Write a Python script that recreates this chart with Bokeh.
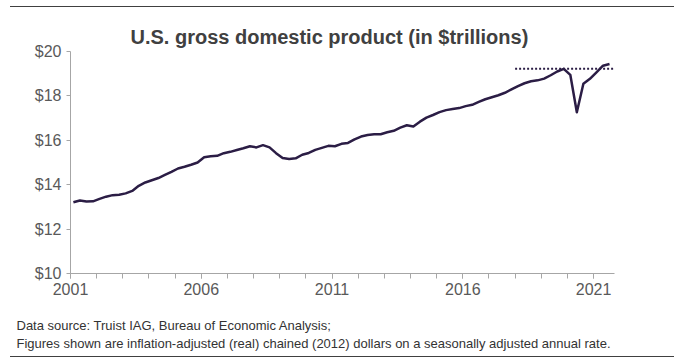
from bokeh.plotting import figure
from bokeh.models import FixedTicker, NumeralTickFormatter, Title, Range1d
from bokeh.embed import file_html
from bokeh.resources import INLINE

# Real GDP, quarterly, 2001Q1 .. 2021Q3 (trillions of chained 2012 dollars, SAAR)
start_year = 2001
gdp = [
    13.21, 13.29, 13.24, 13.25,   # 2001
    13.36, 13.46, 13.53, 13.55,   # 2002
    13.61, 13.72, 13.95, 14.10,   # 2003
    14.20, 14.30, 14.44, 14.58,   # 2004
    14.73, 14.81, 14.90, 15.00,   # 2005
    15.24, 15.28, 15.30, 15.42,   # 2006
    15.48, 15.56, 15.64, 15.73,   # 2007
    15.68, 15.78, 15.68, 15.42,   # 2008
    15.20, 15.16, 15.19, 15.35,   # 2009
    15.43, 15.57, 15.66, 15.75,   # 2010
    15.73, 15.84, 15.88, 16.04,   # 2011
    16.17, 16.24, 16.27, 16.27,   # 2012
    16.36, 16.43, 16.57, 16.68,   # 2013
    16.62, 16.84, 17.02, 17.14,   # 2014
    17.27, 17.36, 17.41, 17.45,   # 2015
    17.54, 17.60, 17.73, 17.85,   # 2016
    17.94, 18.03, 18.14, 18.29,   # 2017
    18.44, 18.57, 18.66, 18.70,   # 2018
    18.78, 18.93, 19.10, 19.22,   # 2019
    18.95, 17.26, 18.55, 18.77,   # 2020
    19.06, 19.36, 19.44,          # 2021
]
x_dates = [start_year + i / 4 + 0.11 for i in range(len(gdp))]

# pre-pandemic peak reference line
peak_x = [2018, 2022]
peak_y = [19.22, 19.22]

x_label_years = [2001, 2006, 2011, 2016, 2021]
x_minor_years = list(range(2001, 2022))
y_ticks = [10, 12, 14, 16, 18, 20]

title_text = "U.S. gross domestic product (in $trillions)"
note1 = "Data source: Truist IAG, Bureau of Economic Analysis;"
note2 = "Figures shown are inflation-adjusted (real) chained (2012) dollars on a seasonally adjusted annual rate."

FONT = "Liberation Sans"
LINE = "#2b1d45"
AXIS = "#a6a6a6"

p = figure(width=664, height=351, output_backend="svg", toolbar_location=None,
           x_range=Range1d(2001, 2021.8), y_range=Range1d(10, 20),
           min_border_left=60, min_border_right=60, min_border_top=44,
           min_border_bottom=85, background_fill_color="white",
           border_fill_color="white", outline_line_color=None)

p.title.text = title_text
p.title.align = "left"
p.title.offset = 60
p.title.standoff = 8
p.title.text_font = FONT
p.title.text_font_size = "20px"
p.title.text_font_style = "bold"
p.title.text_color = "#404040"

p.line(x_dates, gdp, line_color=LINE, line_width=2.5, line_join="round")
p.line(peak_x, peak_y, line_color=LINE, line_width=2, line_dash="2 2")

p.xgrid.visible = False
p.ygrid.visible = False

xa = p.xaxis[0]
xa.ticker = FixedTicker(ticks=x_label_years, minor_ticks=x_minor_years)
xa.major_tick_out = 5
xa.major_tick_in = 0
xa.minor_tick_out = 5
xa.minor_tick_in = 0
xa.axis_line_color = AXIS
xa.major_tick_line_color = AXIS
xa.minor_tick_line_color = AXIS
xa.major_label_text_font = FONT
xa.major_label_text_font_size = "16px"
xa.major_label_text_color = "#595959"
xa.major_label_standoff = 4

ya = p.yaxis[0]
ya.ticker = FixedTicker(ticks=y_ticks)
ya.formatter = NumeralTickFormatter(format="$0")
ya.major_tick_out = 4
ya.major_tick_in = 0
ya.minor_tick_line_color = None
ya.axis_line_color = AXIS
ya.major_tick_line_color = AXIS
ya.major_label_text_font = FONT
ya.major_label_text_font_size = "16px"
ya.major_label_text_color = "#595959"
ya.major_label_standoff = 5

for txt, so, pad_top in ((note1, 2, 17), (note2, 0, 0)):
    t = Title(text=txt, align="left", offset=-54, standoff=so, text_font=FONT,
              text_font_size="13px", text_font_style="normal",
              text_color="#333333",
              padding=dict(top=pad_top, bottom=0, left=0, right=0))
    p.add_layout(t, "below")

p.styles = {"margin-left": "10px", "margin-top": "6px",
            "border-top": "1px solid #404040", "border-bottom": "1px solid #404040"}

open("out.html", "w").write(file_html(p, INLINE))
